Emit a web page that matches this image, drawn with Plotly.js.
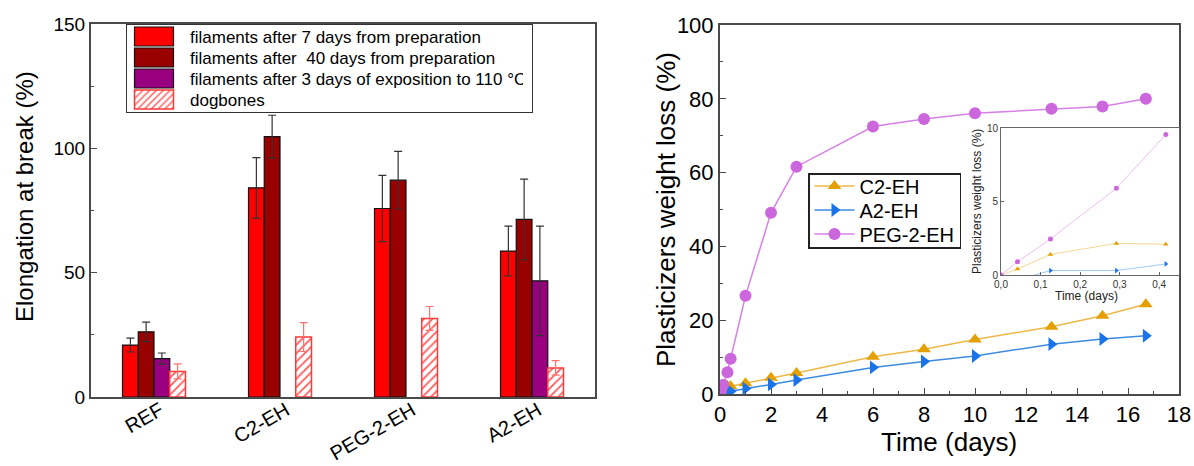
<!DOCTYPE html>
<html><head><meta charset="utf-8">
<script src="https://cdn.plot.ly/plotly-3.0.1.min.js"></script>
<style>html,body{margin:0;padding:0;background:#fff;} #chart{width:1194px;height:466px;}</style>
</head><body><div id="chart"></div>
<script>
// ---- Left chart: elongation at break ----
const categories = ['REF', 'C2-EH', 'PEG-2-EH', 'A2-EH'];
const fil7 = [20.9, 84.1, 75.8, 58.7];
const fil7Err = [2.8, 12.2, 13.3, 10.0];
const fil40 = [26.2, 104.7, 87.2, 71.4];
const fil40Err = [3.9, 8.6, 11.6, 16.2];
const fil110 = [15.4, null, null, 46.7];
const fil110Err = [2.3, null, null, 22.0];
const dogbones = [10.3, 24.1, 31.6, 11.7];
const dogbonesErr = [3.0, 5.8, 4.8, 2.9];

// ---- Right chart: plasticizer weight loss ----
const time = [0, 0.0417, 0.125, 0.2917, 0.4167, 1, 2, 3, 6, 8, 10, 13, 15, 16.7];
const c2eh = [0, 0.4, 1.4, 2.15, 2.1, 2.9, 4.4, 5.7, 10.1, 12.1, 14.8, 18.2, 21.2, 24.3];
const a2eh = [0, -0.33, 0.3, 0.3, 0.75, 1.5, 2.6, 3.8, 7.2, 8.8, 10.3, 13.5, 14.9, 15.8];
const peg2eh = [0, 0.9, 2.45, 5.9, 9.55, 26.6, 49.1, 61.6, 72.5, 74.5, 76.1, 77.3, 77.9, 80.0];
const insetCount = 5; // first points (up to 10 h) shown in the inset
const insetXTicks = [0, 0.1, 0.2, 0.3, 0.4];

const FONT = 'Liberation Sans, Arial, Helvetica, sans-serif';
const W = 1194, H = 466;
const px = v => v / W, py = v => 1 - v / H;

function errs(arr, color) {
  return {type: 'data', array: arr, visible: true, color: color, thickness: 1.2, width: 4};
}

const barLine = {color: '#111', width: 1.2};
const data = [
  {type: 'bar', x: categories, y: fil7, name: 'filaments after 7 days from preparation',
   marker: {color: '#FF0000', line: barLine}, error_y: errs(fil7Err, '#333'), xaxis: 'x', yaxis: 'y', legend: 'legend'},
  {type: 'bar', x: categories, y: fil40, name: 'filaments after\u00a0 40 days from preparation',
   marker: {color: '#990000', line: barLine}, error_y: errs(fil40Err, '#333'), xaxis: 'x', yaxis: 'y', legend: 'legend'},
  {type: 'bar', x: categories, y: fil110, name: 'filaments after 3 days of exposition to 110 °C',
   marker: {color: '#990080', line: barLine}, error_y: errs(fil110Err, '#333'), xaxis: 'x', yaxis: 'y', legend: 'legend'},
  {type: 'bar', x: categories, y: dogbones, name: 'dogbones',
   marker: {color: 'white', line: {color: '#FF3838', width: 1.5},
            pattern: {shape: '/', fgcolor: '#FF5A5A', bgcolor: 'white', size: 6, solidity: 0.3}},
   error_y: errs(dogbonesErr, '#FF7070'), xaxis: 'x', yaxis: 'y', legend: 'legend'},

  {type: 'scatter', mode: 'lines+markers', x: time, y: c2eh, name: 'C2-EH',
   line: {color: '#EDB848', width: 1.5}, marker: {symbol: 'triangle-up', size: 12, color: '#E3A000'},
   xaxis: 'x2', yaxis: 'y2', legend: 'legend2'},
  {type: 'scatter', mode: 'lines+markers', x: time, y: a2eh, name: 'A2-EH',
   line: {color: '#3D8BE0', width: 1.5}, marker: {symbol: 'triangle-right', size: 12, color: '#1A73E8'},
   xaxis: 'x2', yaxis: 'y2', legend: 'legend2'},
  {type: 'scatter', mode: 'lines+markers', x: time, y: peg2eh, name: 'PEG-2-EH',
   line: {color: '#D680E6', width: 1.5}, marker: {symbol: 'circle', size: 12, color: '#CC66DD'},
   xaxis: 'x2', yaxis: 'y2', legend: 'legend2'},

  {type: 'scatter', mode: 'lines+markers', x: time.slice(0, insetCount), y: c2eh.slice(0, insetCount), showlegend: false,
   line: {color: '#F2CC7A', width: 0.8}, marker: {symbol: 'triangle-up', size: 5, color: '#E3A000'}, xaxis: 'x3', yaxis: 'y3'},
  {type: 'scatter', mode: 'lines+markers', x: time.slice(0, insetCount), y: a2eh.slice(0, insetCount), showlegend: false,
   line: {color: '#8CBDF2', width: 0.8}, marker: {symbol: 'triangle-right', size: 5, color: '#1A73E8'}, xaxis: 'x3', yaxis: 'y3'},
  {type: 'scatter', mode: 'lines+markers', x: time.slice(0, insetCount), y: peg2eh.slice(0, insetCount), showlegend: false,
   line: {color: '#E6AEF0', width: 0.8}, marker: {symbol: 'circle', size: 5, color: '#CC66DD'}, xaxis: 'x3', yaxis: 'y3'}
];

const frame = {showline: true, mirror: true, linecolor: '#4a4a4a', linewidth: 2, showgrid: false, zeroline: false};

const layout = {
  width: W, height: H,
  margin: {l: 0, r: 0, t: 0, b: 0, pad: 0},
  paper_bgcolor: 'white', plot_bgcolor: 'white',
  font: {family: FONT, color: '#000'},
  barmode: 'group', bargap: 0.5, bargroupgap: 0,
  showlegend: true,
  xaxis: Object.assign({}, frame, {domain: [px(91), px(595)], anchor: 'y', type: 'category',
    ticks: '', tickangle: -30, ticklabelshift: 6, ticklabelstandoff: -8,
    tickfont: {size: 20, family: FONT}, automargin: false}),
  yaxis: Object.assign({}, frame, {domain: [py(397), py(24)], anchor: 'x', range: [0, 150],
    tickvals: [0, 50, 100, 150], ticks: 'inside', ticklen: 6, tickcolor: '#4a4a4a',
    minor: {dtick: 25, ticks: 'inside', ticklen: 3, tickcolor: '#4a4a4a'},
    tickfont: {size: 19, family: FONT}, automargin: false}),

  xaxis2: Object.assign({}, frame, {domain: [px(720), px(1179)], anchor: 'y2', range: [0, 18],
    dtick: 2, tick0: 0, ticks: 'inside', ticklen: 6, tickcolor: '#4a4a4a',
    minor: {dtick: 1, ticks: 'inside', ticklen: 3, tickcolor: '#4a4a4a'},
    tickfont: {size: 22, family: FONT}, automargin: false}),
  yaxis2: Object.assign({}, frame, {domain: [py(394), py(25)], anchor: 'x2', range: [0, 100],
    dtick: 20, tick0: 0, ticks: 'inside', ticklen: 6, tickcolor: '#4a4a4a',
    minor: {dtick: 10, ticks: 'inside', ticklen: 3, tickcolor: '#4a4a4a'},
    tickfont: {size: 22, family: FONT}, automargin: false}),

  xaxis3: {domain: [px(1001), px(1179)], anchor: 'y3', range: [0, 0.45], tickvals: insetXTicks,
    tickformat: '.1f', showline: true, mirror: true, linecolor: '#666', linewidth: 1, showgrid: false, zeroline: false,
    ticks: 'inside', ticklen: 3, tickcolor: '#666', tickfont: {size: 10, family: FONT, color: '#333'}, automargin: false},
  yaxis3: {domain: [py(275), py(128)], anchor: 'x3', range: [0, 10], tickvals: [0, 5, 10],
    showline: true, mirror: true, linecolor: '#666', linewidth: 1, showgrid: false, zeroline: false,
    ticks: 'inside', ticklen: 3, tickcolor: '#666', tickfont: {size: 10, family: FONT, color: '#333'}, automargin: false},
  separators: ',.',

  legend: {x: px(126), y: py(24), xanchor: 'left', yanchor: 'top', bgcolor: 'white',
    bordercolor: '#333', borderwidth: 1, font: {size: 17, family: FONT}, itemwidth: 44,
    traceorder: 'normal', itemclick: false},
  legend2: {x: px(808), y: py(173), xanchor: 'left', yanchor: 'top', bgcolor: 'white',
    bordercolor: '#222', borderwidth: 1.5, font: {size: 20, family: FONT}, itemwidth: 40,
    traceorder: 'normal', itemclick: false},

  annotations: [
    {text: 'Elongation at break (%)', xref: 'paper', yref: 'paper', x: px(24), y: py(197),
     textangle: -90, showarrow: false, xanchor: 'center', yanchor: 'middle', font: {size: 24, family: FONT}},
    {text: 'Plasticizers weight loss (%)', xref: 'paper', yref: 'paper', x: px(666), y: py(210),
     textangle: -90, showarrow: false, xanchor: 'center', yanchor: 'middle', font: {size: 26, family: FONT}},
    {text: 'Time (days)', xref: 'paper', yref: 'paper', x: px(949), y: py(442),
     showarrow: false, xanchor: 'center', yanchor: 'middle', font: {size: 26, family: FONT}},
    {text: 'Plasticizers weight loss (%)', xref: 'paper', yref: 'paper', x: px(977), y: py(202),
     textangle: -90, showarrow: false, xanchor: 'center', yanchor: 'middle', font: {size: 12, family: FONT, color: '#222'}},
    {text: 'Time (days)', xref: 'paper', yref: 'paper', x: px(1086), y: py(296),
     showarrow: false, xanchor: 'center', yanchor: 'middle', font: {size: 12, family: FONT, color: '#222'}}
  ]
};

// Cosmetic legend adjustments: tighter rows, wide swatches and text gap, as in the original figure.
function tightenLegend(gd, cls, step, pad, wideSwatch, textShift) {
  const lg = gd.querySelector('.infolayer .' + cls);
  if (!lg) return;
  const traces = Array.from(lg.querySelectorAll('g.traces'));
  if (!traces.length) return;
  const firstPass = !lg.hasAttribute('data-adjusted');
  traces.forEach((t, i) => {
    const m = /translate\(\s*([-\d.e]+)[ ,]+([-\d.e]+)\s*\)/.exec(t.getAttribute('transform') || '');
    const x = m ? parseFloat(m[1]) : 0;
    t.setAttribute('transform', 'translate(' + x + ',' + (pad + i * step) + ')');
    if (wideSwatch) {
      t.querySelectorAll('.legendpoints path').forEach(p => p.setAttribute('d', 'M-19.5,-9.5H19.5V9.5H-19.5Z'));
    }
    if (firstPass && textShift) {
      const txt = t.querySelector('text.legendtext');
      if (txt) txt.setAttribute('x', parseFloat(txt.getAttribute('x') || 0) + textShift);
    }
  });
  const bg = lg.querySelector('rect.bg');
  if (bg) {
    bg.setAttribute('height', 2 * pad + (traces.length - 1) * step);
    if (firstPass && textShift) bg.setAttribute('width', parseFloat(bg.getAttribute('width')) + textShift);
  }
  lg.setAttribute('data-adjusted', '1');
}

function adjust(gd) {
  tightenLegend(gd, 'legend', 21, 12.5, true, 9);
  tightenLegend(gd, 'legend2', 24, 13, false, 0);
}

Plotly.newPlot('chart', data, layout, {staticPlot: true, displayModeBar: false}).then(gd => {
  adjust(gd);
  setTimeout(() => adjust(gd), 30);
  setTimeout(() => adjust(gd), 200);
});
</script>
</body></html>
